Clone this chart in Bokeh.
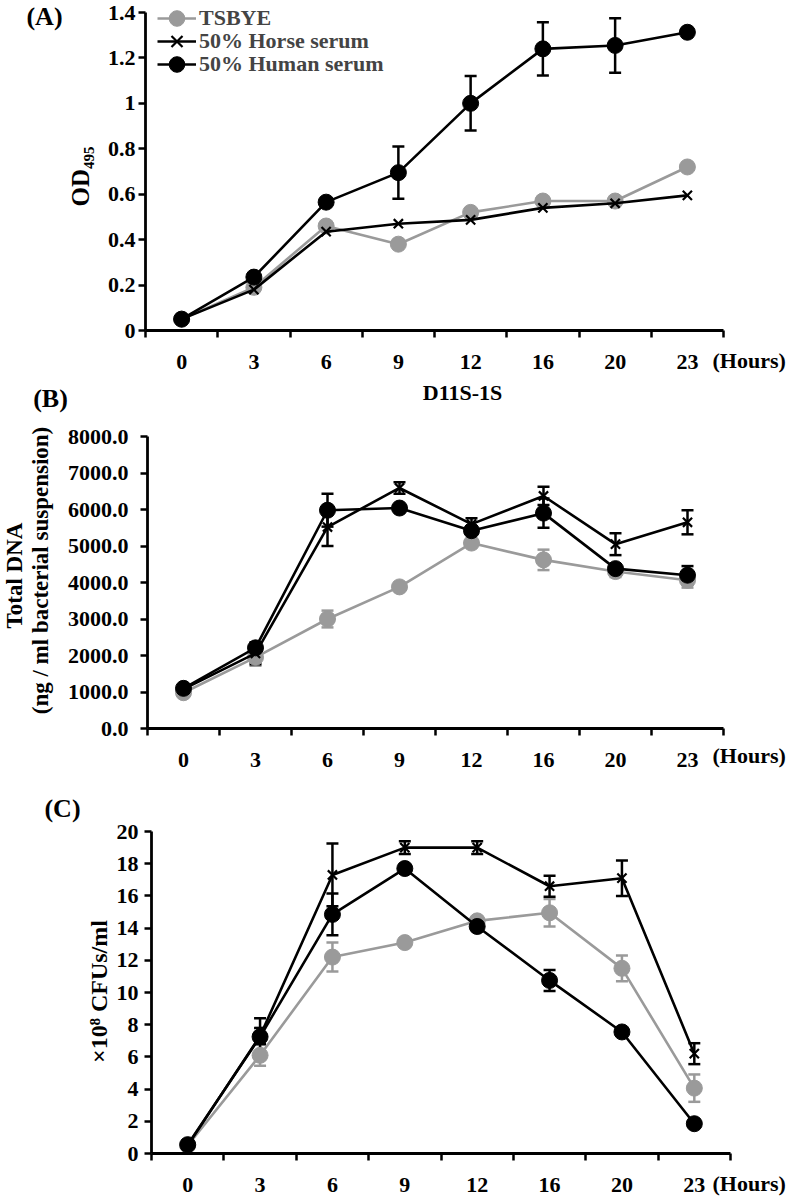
import numpy as np
from bokeh.plotting import figure
from bokeh.layouts import column
from bokeh.models import (Range1d, FixedTicker, Label, Whisker, TeeHead,
                          ColumnDataSource, Legend, LegendItem, NumeralTickFormatter,
                          LinearAxis)
from bokeh.embed import file_html
from bokeh.resources import INLINE

# ---------------- data ----------------
hours = ["0", "3", "6", "9", "12", "16", "20", "23"]
series_names = ["TSBYE", "50% Horse serum", "50% Human serum"]

# (A) OD495
od_tsbye = [0.05, 0.19, 0.46, 0.38, 0.52, 0.57, 0.57, 0.72]
od_horse = [0.05, 0.18, 0.435, 0.47, 0.487, 0.54, 0.56, 0.595]
od_human = [0.05, 0.235, 0.565, 0.695, 1.0, 1.24, 1.255, 1.313]
od_tsbye_err = [0, 0, 0, 0, 0, 0, 0, 0]
od_horse_err = [0, 0, 0, 0, 0, 0, 0, 0]
od_human_err = [0, 0, 0, 0.115, 0.12, 0.117, 0.12, 0]
od_ticks = [0, 0.2, 0.4, 0.6, 0.8, 1, 1.2, 1.4]

# (B) Total DNA (ng / ml)
dna_tsbye = [980, 1950, 3000, 3880, 5080, 4620, 4300, 4060]
dna_horse = [1080, 2060, 5520, 6590, 5600, 6370, 5050, 5650]
dna_human = [1100, 2210, 5980, 6040, 5420, 5900, 4380, 4200]
dna_tsbye_err = [0, 230, 230, 0, 0, 280, 150, 200]
dna_horse_err = [0, 300, 520, 160, 160, 250, 300, 330]
dna_human_err = [0, 0, 450, 0, 0, 400, 120, 250]
dna_ticks = [0, 1000, 2000, 3000, 4000, 5000, 6000, 7000, 8000]

# (C) x10^8 CFUs/ml
cfu_tsbye = [0.5, 6.1, 12.2, 13.1, 14.45, 14.95, 11.5, 4.06]
cfu_horse = [0.5, 7.3, 17.3, 19.0, 19.0, 16.6, 17.1, 6.2]
cfu_human = [0.55, 7.25, 14.85, 17.7, 14.1, 10.75, 7.55, 1.85]
cfu_tsbye_err = [0, 0.65, 0.9, 0, 0, 0.85, 0.8, 0.85]
cfu_horse_err = [0, 0.5, 1.95, 0.4, 0.4, 0.65, 1.1, 0.65]
cfu_human_err = [0, 1.15, 1.3, 0, 0, 0.65, 0, 0]
cfu_ticks = [0, 2, 4, 6, 8, 10, 12, 14, 16, 18, 20]

# ---------------- style ----------------
FONT = "Liberation Serif"
GRAY = "#9a9a9a"
BLACK = "#000000"
W = 788
TICK_FS = "22px"
xs = list(range(len(hours)))
NCAT = len(hours)


def geom(T, H, L, R, Ytop, Ybot, ymax):
    g = dict(T=T, H=H, L=L, R=R, Ytop=Ytop, Ybot=Ybot, ymax=ymax)
    g["sx"] = (R - L) / NCAT
    g["sy"] = (Ybot - Ytop) / ymax
    g["x0"] = -0.5 - L / g["sx"]
    g["x1"] = NCAT - 0.5 + (W - R) / g["sx"]
    g["y0"] = -((T + H) - Ybot) / g["sy"]
    g["y1"] = ymax + (Ytop - T) / g["sy"]
    return g


def page_to_data(g, px, py):
    return -0.5 + (px - g["L"]) / g["sx"], (g["Ybot"] - py) / g["sy"]


def add_text(p, g, px, py, text, size, angle=0.0, align="center"):
    x, y = page_to_data(g, px, py)
    p.add_layout(Label(x=x, y=y, text=text, angle=angle, text_align=align,
                       text_baseline="middle", text_font=FONT,
                       text_font_style="bold", text_font_size=size,
                       text_color=BLACK))


def make_panel(g, ticks, ystandoff, yfmt=None):
    p = figure(width=W, height=g["H"],
               x_range=Range1d(g["x0"], g["x1"]), y_range=Range1d(g["y0"], g["y1"]),
               output_backend="svg", toolbar_location=None,
               x_axis_type=None, y_axis_type=None,
               min_border_left=0, min_border_right=0,
               min_border_top=0, min_border_bottom=0)
    p.outline_line_color = None
    p.xgrid.grid_line_color = None
    p.ygrid.grid_line_color = None
    p.background_fill_color = "white"
    p.border_fill_color = "white"

    xa = LinearAxis(fixed_location=0, bounds=(-0.5, NCAT - 0.5))
    xa.ticker = FixedTicker(ticks=xs, minor_ticks=[i - 0.5 for i in range(NCAT + 1)])
    xa.major_label_overrides = {i: h for i, h in enumerate(hours)}
    xa.major_tick_out = 0
    xa.major_tick_in = 0
    xa.major_tick_line_color = None
    xa.minor_tick_out = 7
    xa.minor_tick_in = 0
    xa.minor_tick_line_width = 2.5
    xa.minor_tick_line_color = BLACK
    xa.major_label_standoff = 17

    ya = LinearAxis(fixed_location=-0.5, bounds=(0, g["ymax"]))
    ya.ticker = FixedTicker(ticks=ticks)
    ya.major_tick_out = 7
    ya.major_tick_in = 0
    ya.major_tick_line_width = 2.5
    ya.major_tick_line_color = BLACK
    ya.minor_tick_line_color = None
    ya.major_label_standoff = ystandoff
    if yfmt is not None:
        ya.formatter = yfmt

    for ax in (xa, ya):
        ax.axis_line_width = 2.8
        ax.axis_line_color = BLACK
        ax.major_label_text_font = FONT
        ax.major_label_text_font_style = "bold"
        ax.major_label_text_font_size = TICK_FS
        ax.major_label_text_color = BLACK
    p.add_layout(xa, "below")
    p.add_layout(ya, "left")
    return p


def add_series(p, vals, errs, gray, marker, size):
    c = GRAY if gray else BLACK
    src = ColumnDataSource(dict(x=xs, y=vals))
    ln = p.line("x", "y", source=src, line_color=c, line_width=2.6)
    if marker == "x":
        pt = p.scatter("x", "y", source=src, marker="x", size=size,
                       line_color=BLACK, line_width=2.2)
    else:
        pt = p.scatter("x", "y", source=src, marker="circle", size=size,
                       fill_color=c, line_color=c)
    ex = [x for x, e in zip(xs, errs) if e > 0]
    ey = [v for v, e in zip(vals, errs) if e > 0]
    ee = [e for e in errs if e > 0]
    if ex:
        esrc = ColumnDataSource(dict(x=ex, upper=[v + e for v, e in zip(ey, ee)],
                                     lower=[v - e for v, e in zip(ey, ee)]))
        wk = Whisker(source=esrc, base="x", upper="upper", lower="lower",
                     line_color=c, line_width=2.5,
                     upper_head=TeeHead(size=12, line_color=c, line_width=2.5),
                     lower_head=TeeHead(size=12, line_color=c, line_width=2.5))
        p.add_layout(wk)
    return ln, pt


def draw_panel(p, tsbye, horse, human, e_t, e_h, e_u):
    r1 = add_series(p, tsbye, e_t, True, "circle", 16)
    r2 = add_series(p, horse, e_h, False, "x", 13)
    r3 = add_series(p, human, e_u, False, "circle", 16)
    return [r1, r2, r3]


# ---------------- panel A ----------------
gA = geom(T=0, H=380, L=145, R=723, Ytop=12, Ybot=330, ymax=1.4)
pA = make_panel(gA, od_ticks, 3, NumeralTickFormatter(format="0.[0]"))
rA = draw_panel(pA, od_tsbye, od_horse, od_human, od_tsbye_err, od_horse_err, od_human_err)
GH = 40
for name, r, row_y in zip(series_names, rA, [18, 41, 64]):
    lg = Legend(items=[LegendItem(label=name, renderers=list(r))],
                location=(157, gA["H"] - (row_y + GH // 2)), margin=0, padding=0, spacing=0,
                glyph_width=39, glyph_height=GH, label_height=GH, label_standoff=3,
                label_text_font=FONT, label_text_font_style="bold",
                label_text_font_size="22px", border_line_color=None,
                background_fill_alpha=0)
    pA.add_layout(lg)
add_text(pA, gA, 44, 16, "(A)", "26px")
add_text(pA, gA, 80, 176, "OD₄₉₅", "25px", angle=np.pi / 2)
add_text(pA, gA, 712, 360, "(Hours)", "22px", align="left")

# ---------------- panel B ----------------
gB = geom(T=380, H=400, L=147, R=723, Ytop=436, Ybot=728, ymax=8000)
pB = make_panel(gB, dna_ticks, 12, NumeralTickFormatter(format="0.0"))
draw_panel(pB, dna_tsbye, dna_horse, dna_human, dna_tsbye_err, dna_horse_err, dna_human_err)
add_text(pB, gB, 462, 392, "D11S-1S", "22px")
add_text(pB, gB, 50, 398, "(B)", "26px")
add_text(pB, gB, 14, 575, "Total DNA", "23px", angle=np.pi / 2)
add_text(pB, gB, 40, 570, "(ng / ml bacterial suspension)", "23px", angle=np.pi / 2)
add_text(pB, gB, 712, 755, "(Hours)", "22px", align="left")

# ---------------- panel C ----------------
gC = geom(T=780, H=418, L=151, R=730, Ytop=831, Ybot=1153, ymax=20)
pC = make_panel(gC, cfu_ticks, 6)
draw_panel(pC, cfu_tsbye, cfu_horse, cfu_human, cfu_tsbye_err, cfu_horse_err, cfu_human_err)
add_text(pC, gC, 62, 808, "(C)", "26px")
add_text(pC, gC, 98, 991, "×10⁸ CFUs/ml", "24px", angle=np.pi / 2)
add_text(pC, gC, 712, 1183, "(Hours)", "22px", align="left")

layout = column(pA, pB, pC, spacing=0)
open("out.html", "w").write(file_html(layout, INLINE))
